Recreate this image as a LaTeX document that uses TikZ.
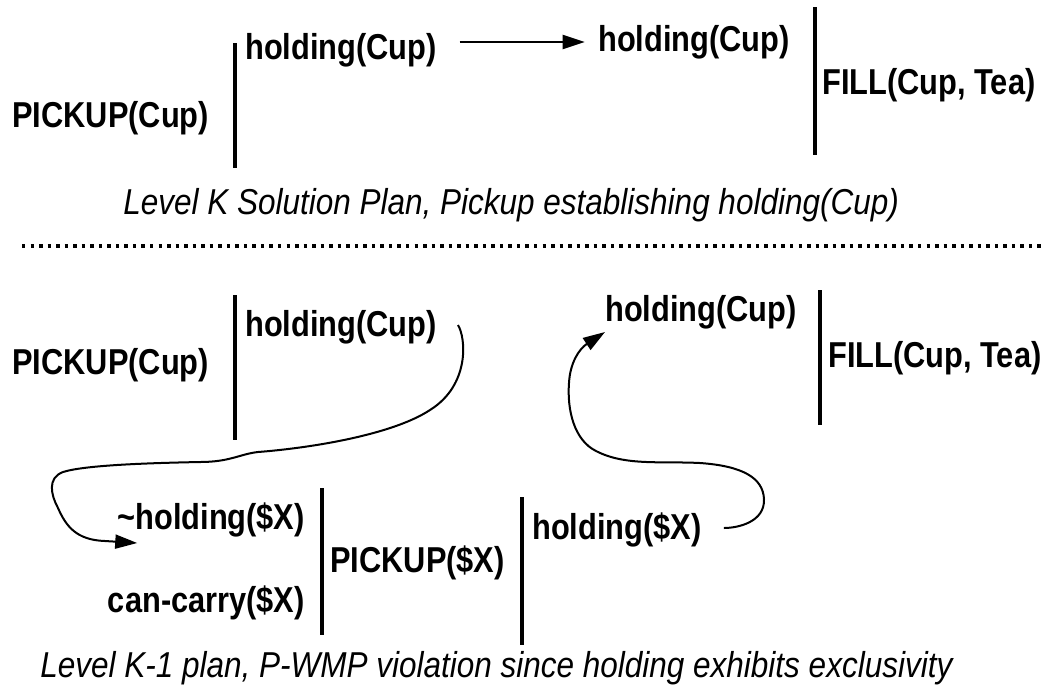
\documentclass[tikz,border=0pt]{standalone}
\usepackage{fontspec}
\setmainfont{Liberation Sans}
\newfontfamily\labelfont[FakeStretch=0.855]{Liberation Sans}
\newfontfamily\captionfont[FakeStretch=0.875]{Liberation Sans}
\usetikzlibrary{arrows.meta,calc}
\begin{document}
\begin{tikzpicture}[x=0.75pt,y=-0.75pt,
  lbl/.style={font=\labelfont\fontsize{27pt}{32pt}\selectfont\bfseries, inner sep=0pt, anchor=west},
  captext/.style={font=\captionfont\fontsize{27pt}{32pt}\selectfont\itshape, inner sep=0pt, anchor=west},
  bar/.style={line width=3pt},
  link/.style={line width=1.5pt, -{Triangle[length=16.5pt,width=10.5pt]}},
  sepline/.style={line width=3pt, dash pattern=on 2.6pt off 3.8pt},
]
\useasboundingbox (0,0) rectangle (1055,694);

% ---- upper plan (level K) ----
\node[lbl] (pu1) at (12,118) {PICKUP(Cup)};
\draw[bar] (235,43) -- (235,168);
\node[lbl] (hu1) at (245,50) {holding(Cup)};
\node[lbl] (hu2) at (598,42) {holding(Cup)};
\draw[bar] (815,7) -- (815,155);
\node[lbl] (fu) at (822,85) {FILL(Cup, Tea)};
\draw[link, shorten <=17pt, shorten >=10pt] (hu1.east |- hu2.west) -- (hu2.west);
\node[captext] (cap1) at (123,205) {Level K Solution Plan, Pickup establishing holding(Cup)};

% ---- separator ----
\draw[sepline] (22,246) -- (1045,246);

% ---- lower plan (level K-1) ----
\node[lbl] (pl1) at (12,365) {PICKUP(Cup)};
\draw[bar] (235,295) -- (235,440);
\node[lbl] (hl1) at (245,327) {holding(Cup)};
\node[lbl] (hl2) at (605,312) {holding(Cup)};
\draw[bar] (820,290) -- (820,425);
\node[lbl] (fl) at (828,358) {FILL(Cup, Tea)};

\node[lbl, anchor=east] (nh) at (305,520) {\char"007Eholding(\$X)};
\node[lbl, anchor=east] (cc) at (305,603) {can-carry(\$X)};
\draw[bar] (322,488) -- (322,635);
\node[lbl] (px) at (330,563) {PICKUP(\$X)};
\draw[bar] (522,497) -- (522,645);
\node[lbl] (hx) at (532,530) {holding(\$X)};

\node[captext] (cap2) at (40,668) {Level K-1 plan, P-WMP violation since holding exhibits exclusivity};

% ---- threat links ----
\coordinate (t1s) at ($(hl1.east)+(21,-2)$);
\coordinate (t1e) at ($(nh.west)+(20,23)$);
\draw[link] (t1s) .. controls (466,338) and (470,385) .. (430,410)
  .. controls (392,435) and (310,448) .. (258,452)
  .. controls (240,454) and (230,462) .. (200,462)
  .. controls (150,463) and (85,465) .. (63,472)
  .. controls (47,478) and (51,495) .. (58,508)
  .. controls (66,526) and (76,540) .. (105,541)
  -- (t1e);

\coordinate (t2s) at ($(hx.east)+(22,-2)$);
\coordinate (t2e) at ($(hl2.west)+(0,20)$);
\draw[link] (t2s) .. controls (738,528) and (765,522) .. (764,499)
  .. controls (763,478) and (743,466) .. (700,463)
  .. controls (660,461) and (625,466) .. (596,451)
  .. controls (574,440) and (567,410) .. (569,383)
  .. controls (570,363) and (579,349) .. (t2e);
\end{tikzpicture}
\end{document}
